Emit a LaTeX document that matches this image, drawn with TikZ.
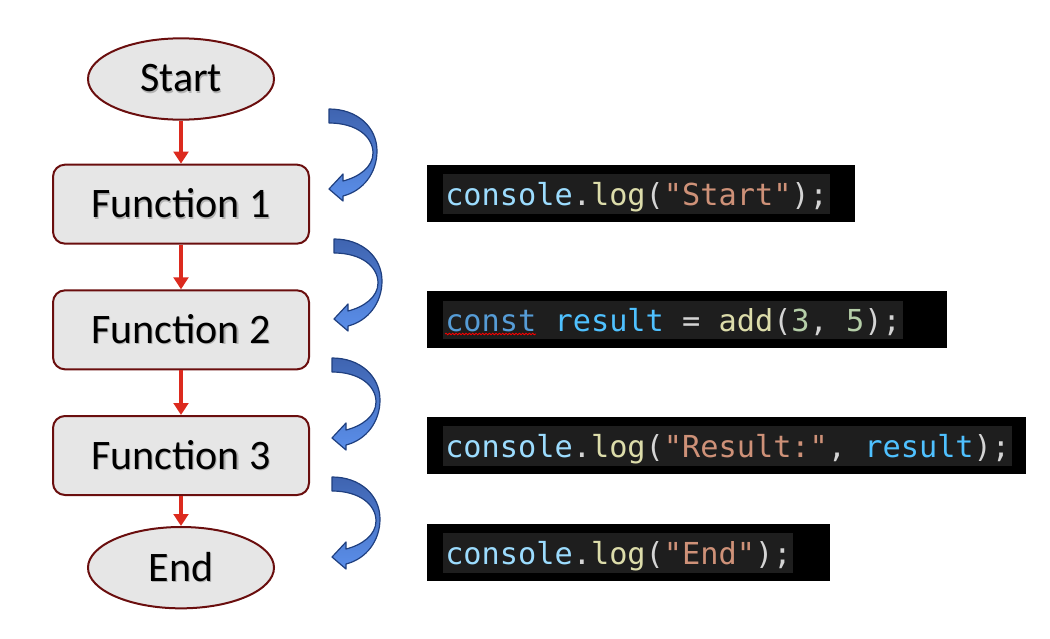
\documentclass[tikz,border=0pt]{standalone}
\usepackage{fontspec}
\setmainfont{Carlito}
\newfontfamily\codefont{DejaVu Sans Mono}
\usepackage{xcolor}
\usepackage{tikz}
\usetikzlibrary{shapes.geometric, arrows.meta, positioning, calc, decorations.pathmorphing}

\definecolor{nodeline}{HTML}{6A0E0E}
\definecolor{nodefill}{HTML}{E6E6E6}
\definecolor{flowred}{HTML}{DC2A1E}
\definecolor{curlline}{HTML}{1F3F7F}
\definecolor{curltop}{HTML}{3F64B0}
\definecolor{curlbot}{HTML}{5B8FEA}
\definecolor{codebg}{HTML}{1E1E1E}
\definecolor{cvar}{HTML}{9CDCFE}
\definecolor{cfun}{HTML}{DCDCAA}
\definecolor{cpunc}{HTML}{D4D4D4}
\definecolor{cstr}{HTML}{CE9178}
\definecolor{ckey}{HTML}{569CD6}
\definecolor{cid}{HTML}{4FC1FF}
\definecolor{cnum}{HTML}{B5CEA8}

\newcommand\codeline[1]{{\setlength\fboxsep{1.5pt}\colorbox{codebg}{\rule[-3.75pt]{0pt}{25.5pt}#1}}}
\newcommand\blank{\phantom{x}}
\newcommand\shadowed[1]{\makebox[0pt][l]{\hspace{0.9pt}\raisebox{-0.9pt}{\textcolor{black!30}{#1}}}#1}

\begin{document}
\begin{tikzpicture}[
        x=0.75pt, y=-0.75pt,
        node distance=33.5pt,
        terminal/.style={
            ellipse,
            draw=nodeline,
            line width=1.5pt,
            fill=nodefill,
            minimum width=139.5pt,
            minimum height=61pt,
            font=\fontsize{31.5}{36}\selectfont
        },
        process/.style={
            rectangle,
            draw=nodeline,
            line width=1.5pt,
            fill=nodefill,
            rounded corners=9pt,
            minimum width=192pt,
            minimum height=59.25pt,
            font=\fontsize{31.5}{36}\selectfont
        },
        flow/.style={
            draw=flowred,
            line width=3pt,
            -{Triangle[width=11pt, length=9pt]}
        },
        code/.style={
            fill=black,
            anchor=north west,
            minimum height=42.75pt,
            inner xsep=12pt,
            align=left,
            font=\codefont\fontsize{22.7}{27}\selectfont
        },
        squiggle/.style={
            draw=red,
            line width=0.6pt,
            decorate,
            decoration={snake, amplitude=0.6pt, segment length=2.5pt}
        },
        curl/.pic={
            \draw[draw=curlline, line width=0.9pt, top color=curltop, bottom color=curlbot, line join=round]
                (0,0) .. controls (28,0) and (48,18) .. (48,42)
                .. controls (48,64) and (34,82) .. (14,87)
                -- (14,92) -- (0,80) -- (14,65) -- (14,72)
                .. controls (30,68) and (44,58) .. (44,44)
                .. controls (44,28) and (28,14) .. (0,14) -- cycle;
        }
    ]
    \useasboundingbox (0,0) rectangle (1050,639);

    % Flowchart
    \node[terminal] (start) at (181,79) {\shadowed{Start}};
    \node[process, below=32.25pt of start] (func1) {\shadowed{Function 1}};
    \node[process, below=of func1] (func2) {\shadowed{Function 2}};
    \node[process, below=of func2] (func3) {\shadowed{Function 3}};
    \node[terminal, below=22.5pt of func3] (end) {\shadowed{End}};

    \path[flow] (start) -- (func1);
    \path[flow] (func1) -- (func2);
    \path[flow] (func2) -- (func3);
    \path[flow] (func3) -- (end);

    % Curved arrows
    \foreach \px/\py in {329/109, 334/239, 332/358, 332/477}
        \pic at (\px,\py) {curl};

    % Code lines
    \node[code, text width=297pt] (code1) at (427,165) {\codeline{\textcolor{cvar}{console}\textcolor{cpunc}{.}\textcolor{cfun}{log}\textcolor{cpunc}{(}\textcolor{cstr}{"Start"}\textcolor{cpunc}{);}}};
    \node[code, text width=366pt] (code2) at (427,291) {\codeline{\textcolor{ckey}{const}\blank\textcolor{cid}{result}\blank\textcolor{cpunc}{=}\blank\textcolor{cfun}{add}\textcolor{cpunc}{(}\textcolor{cnum}{3}\textcolor{cpunc}{,}\blank\textcolor{cnum}{5}\textcolor{cpunc}{);}}};
    \node[code, text width=425.25pt] (code3) at (427,417) {\codeline{\textcolor{cvar}{console}\textcolor{cpunc}{.}\textcolor{cfun}{log}\textcolor{cpunc}{(}\textcolor{cstr}{"Result:"}\textcolor{cpunc}{,}\blank\textcolor{cid}{result}\textcolor{cpunc}{);}}};
    \node[code, text width=278.25pt] (code4) at (427,524) {\codeline{\textcolor{cvar}{console}\textcolor{cpunc}{.}\textcolor{cfun}{log}\textcolor{cpunc}{(}\textcolor{cstr}{"End"}\textcolor{cpunc}{);}}};

    \path[squiggle] ($(code2.north west)+(18,43)$) -- ++(91,0);
\end{tikzpicture}
\end{document}
